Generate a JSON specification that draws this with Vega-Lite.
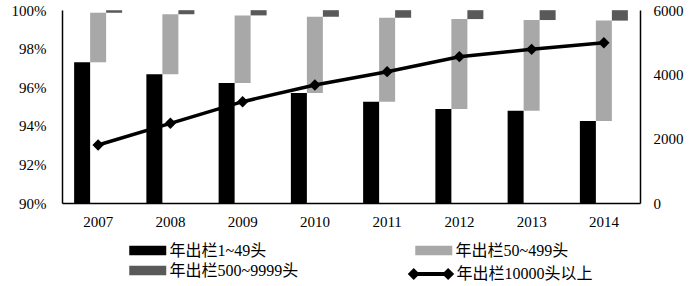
{
  "$schema": "https://vega.github.io/schema/vega-lite/v6.json",
  "width": 578,
  "height": 193,
  "autosize": {"type": "none"},
  "padding": {"left": 62, "top": 10, "right": 60, "bottom": 83},
  "background": "white",
  "datasets": {
    "shares": [
      {"year": "2007", "series": "年出栏1~49头", "order": 1, "share": 0.9729},
      {"year": "2007", "series": "年出栏50~499头", "order": 2, "share": 0.0257},
      {"year": "2007", "series": "年出栏500~9999头", "order": 3, "share": 0.0013},
      {"year": "2008", "series": "年出栏1~49头", "order": 1, "share": 0.9667},
      {"year": "2008", "series": "年出栏50~499头", "order": 2, "share": 0.0311},
      {"year": "2008", "series": "年出栏500~9999头", "order": 3, "share": 0.0021},
      {"year": "2009", "series": "年出栏1~49头", "order": 1, "share": 0.9622},
      {"year": "2009", "series": "年出栏50~499头", "order": 2, "share": 0.0350},
      {"year": "2009", "series": "年出栏500~9999头", "order": 3, "share": 0.0027},
      {"year": "2010", "series": "年出栏1~49头", "order": 1, "share": 0.9570},
      {"year": "2010", "series": "年出栏50~499头", "order": 2, "share": 0.0395},
      {"year": "2010", "series": "年出栏500~9999头", "order": 3, "share": 0.0034},
      {"year": "2011", "series": "年出栏1~49头", "order": 1, "share": 0.9525},
      {"year": "2011", "series": "年出栏50~499头", "order": 2, "share": 0.0435},
      {"year": "2011", "series": "年出栏500~9999头", "order": 3, "share": 0.0039},
      {"year": "2012", "series": "年出栏1~49头", "order": 1, "share": 0.9487},
      {"year": "2012", "series": "年出栏50~499头", "order": 2, "share": 0.0466},
      {"year": "2012", "series": "年出栏500~9999头", "order": 3, "share": 0.0046},
      {"year": "2013", "series": "年出栏1~49头", "order": 1, "share": 0.9478},
      {"year": "2013", "series": "年出栏50~499头", "order": 2, "share": 0.0470},
      {"year": "2013", "series": "年出栏500~9999头", "order": 3, "share": 0.0051},
      {"year": "2014", "series": "年出栏1~49头", "order": 1, "share": 0.9425},
      {"year": "2014", "series": "年出栏50~499头", "order": 2, "share": 0.0520},
      {"year": "2014", "series": "年出栏500~9999头", "order": 3, "share": 0.0054}
    ],
    "farms": [
      {"year": "2007", "series": "年出栏10000头以上", "farms": 1803},
      {"year": "2008", "series": "年出栏10000头以上", "farms": 2477},
      {"year": "2009", "series": "年出栏10000头以上", "farms": 3150},
      {"year": "2010", "series": "年出栏10000头以上", "farms": 3668},
      {"year": "2011", "series": "年出栏10000头以上", "farms": 4083},
      {"year": "2012", "series": "年出栏10000头以上", "farms": 4549},
      {"year": "2013", "series": "年出栏10000头以上", "farms": 4777},
      {"year": "2014", "series": "年出栏10000头以上", "farms": 4984}
    ]
  },
  "layer": [
    {
      "data": {"name": "shares"},
      "transform": [
        {"stack": "share", "groupby": ["year"], "sort": [{"field": "order", "order": "ascending"}], "as": ["lo", "hi"]}
      ],
      "mark": {"type": "bar", "clip": true},
      "encoding": {
        "x": {
          "field": "year", "type": "nominal",
          "scale": {"paddingInner": 0.3356, "paddingOuter": 0.1678},
          "axis": {"title": null, "labelAngle": 0, "labelDx": -16, "labelPadding": 11}
        },
        "xOffset": {
          "field": "series", "type": "nominal",
          "scale": {"domain": ["年出栏1~49头", "年出栏50~499头", "年出栏500~9999头"], "paddingInner": 0, "paddingOuter": 0}
        },
        "y": {
          "field": "lo", "type": "quantitative",
          "scale": {"domain": [0.9, 1], "zero": false},
          "axis": {"title": null, "values": [0.9, 0.92, 0.94, 0.96, 0.98, 1], "format": ".0%", "labelPadding": 16}
        },
        "y2": {"field": "hi"},
        "color": {
          "field": "series", "type": "nominal",
          "scale": {
            "domain": ["年出栏1~49头", "年出栏50~499头", "年出栏500~9999头"],
            "range": ["#000000", "#a8a8a8", "#595959"]
          },
          "legend": {
            "legendX": 73.75, "legendY": 228.5, "columns": 2, "columnPadding": 116,
            "direction": "horizontal",
            "symbolType": "M-1.574,-0.4H1.574V0.4H-1.574Z"
          }
        }
      }
    },
    {
      "data": {"name": "farms"},
      "layer": [
        {
          "mark": {"type": "line", "color": "black", "strokeWidth": 3.5},
          "encoding": {
            "x": {"field": "year", "type": "nominal"},
            "y": {
              "field": "farms", "type": "quantitative",
              "scale": {"domain": [0, 6000]},
              "axis": {"orient": "right", "title": null, "values": [0, 1000, 2000, 3000, 4000, 5000, 6000], "format": "d", "labelPadding": 13}
            }
          }
        },
        {
          "mark": {"type": "point", "shape": "diamond", "filled": true, "size": 130, "opacity": 1},
          "encoding": {
            "x": {"field": "year", "type": "nominal"},
            "y": {"field": "farms", "type": "quantitative"},
            "color": {
              "field": "series", "type": "nominal",
              "scale": {"domain": ["年出栏10000头以上"], "range": ["#000000"]},
              "legend": {
                "legendX": 360.75, "legendY": 252, "columns": 1,
                "symbolType": "M-2.3,0L-1.79,-0.51L-1.28,0L-1.79,0.51Z M0.63,0L1.14,-0.51L1.65,0L1.14,0.51Z M-1.79,-0.17H1.14V0.17H-1.79Z"
              }
            }
          }
        }
      ]
    }
  ],
  "resolve": {"scale": {"y": "independent", "color": "independent"}},
  "config": {
    "view": {"stroke": null},
    "axis": {
      "grid": false, "ticks": false, "tickSize": 0,
      "domainColor": "black", "domainWidth": 1.5,
      "labelFont": "Liberation Serif", "labelFontSize": 15, "labelColor": "black"
    },
    "legend": {
      "title": null, "orient": "none", "rowPadding": 0,
      "symbolSize": 552, "labelOffset": 9.75, "padding": 0,
      "labelFont": "Liberation Serif, Noto Sans CJK SC", "labelFontSize": 16,
      "labelColor": "black", "labelLimit": 300, "symbolStrokeWidth": 0, "symbolOpacity": 1
    }
  }
}
